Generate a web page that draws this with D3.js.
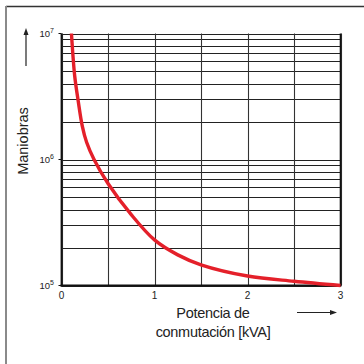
<!DOCTYPE html>
<html><head><meta charset="utf-8">
<script src="https://cdn.jsdelivr.net/npm/d3@7"></script>
<style>html,body{margin:0;padding:0;background:#fff}svg{display:block}text{font-family:"Liberation Sans",Arial,sans-serif}</style>
</head><body>
<script>
const powerKVA = [0.107, 0.142, 0.18, 0.223, 0.27, 0.35, 0.5, 0.75, 1.0, 1.25, 1.5, 2.0, 2.5, 3.0];
const operations = [1e7, 4.6e6, 2.9e6, 1.85e6, 1.37e6, 1.0e6, 6.45e5, 3.65e5, 2.3e5, 1.75e5, 1.46e5, 1.19e5, 1.08e5, 1.0e5];
const xTickValues = [0, 1, 2, 3];
const xGridValues = [0, 0.5, 1, 1.5, 2, 2.5, 3];
const yTickExponents = [5, 6, 7];
const yLabel = "Maniobras";
const xLabelLines = ["Potencia de", "conmutación [kVA]"];

const W = 364, H = 364;
const svg = d3.select("body").append("svg").attr("width", W).attr("height", H);

const x = d3.scaleLinear().domain([0, 3]).range([61.5, 340.5]);
const y = d3.scaleLog().domain([1e5, 1e7]).range([285.5, 33.5]);

// outer frame (top and left)
svg.append("line").attr("x1", 6).attr("x2", W).attr("y1", 6.5).attr("y2", 6.5).attr("stroke", "#333").attr("stroke-width", 1.3);
svg.append("line").attr("x1", 6).attr("x2", 6).attr("y1", 6).attr("y2", H).attr("stroke", "#8a8a8a").attr("stroke-width", 2);

// horizontal grid
const yGrid = [];
for (let e = 5; e < 7; e++) for (let k = 1; k <= 9; k++) yGrid.push(k * Math.pow(10, e));
yGrid.push(1e7);
svg.append("g").selectAll("line").data(yGrid).join("line")
  .attr("x1", x(0)).attr("x2", x(3))
  .attr("y1", d => Math.round(y(d)) + 0.5).attr("y2", d => Math.round(y(d)) + 0.5)
  .attr("stroke", "#222").attr("stroke-width", 1.1);

// vertical grid
svg.append("g").selectAll("line").data(xGridValues).join("line")
  .attr("x1", d => Math.round(x(d)) + 0.5).attr("x2", d => Math.round(x(d)) + 0.5)
  .attr("y1", y(1e7)).attr("y2", y(1e5))
  .attr("stroke", "#333").attr("stroke-width", 1.1);

// axes
svg.append("line").attr("x1", x(0)).attr("x2", x(0)).attr("y1", y(1e7)).attr("y2", y(1e5) + 1).attr("stroke", "#111").attr("stroke-width", 1.8);
svg.append("line").attr("x1", x(0) - 1).attr("x2", x(3) + 1).attr("y1", y(1e5)).attr("y2", y(1e5)).attr("stroke", "#111").attr("stroke-width", 1.8);
svg.append("line").attr("x1", x(3)).attr("x2", x(3)).attr("y1", y(1e7)).attr("y2", y(1e5)).attr("stroke", "#111").attr("stroke-width", 1.6);

// y ticks
const yt = svg.append("g").selectAll("g").data(yTickExponents).join("g");
yt.append("line").attr("x1", x(0) - 3).attr("x2", x(0)).attr("y1", e => y(Math.pow(10, e))).attr("y2", e => y(Math.pow(10, e))).attr("stroke", "#111");
const ytxt = yt.append("text").attr("x", 54).attr("y", e => y(Math.pow(10, e)) + 3.5)
  .attr("text-anchor", "end").attr("font-size", 9.5).attr("fill", "#222");
ytxt.append("tspan").text("10");
ytxt.append("tspan").attr("dy", -4).attr("font-size", 7).text(e => e);

// x tick labels
svg.append("g").selectAll("text").data(xTickValues).join("text")
  .attr("x", d => x(d)).attr("y", 299).attr("text-anchor", "middle")
  .attr("font-size", 10).attr("fill", "#222").text(d => d);

// curve
const pts = powerKVA.map((p, i) => [x(p), y(operations[i])]);
svg.append("path").attr("d", d3.line().curve(d3.curveCatmullRom.alpha(0.5))(pts))
  .attr("fill", "none").attr("stroke", "#e4202a").attr("stroke-width", 3.4).attr("stroke-linecap", "butt");

// y label
svg.append("text").attr("transform", "translate(28,141) rotate(-90)").attr("text-anchor", "middle")
  .attr("font-size", 14.5).attr("fill", "#222").text(yLabel);
// y arrow
svg.append("line").attr("x1", 26).attr("x2", 26).attr("y1", 66).attr("y2", 33).attr("stroke", "#222").attr("stroke-width", 1.2);
svg.append("path").attr("d", "M26,28 L23.5,35 L28.5,35 Z").attr("fill", "#222");

// x label
svg.append("g").selectAll("text").data(xLabelLines).join("text")
  .attr("x", 213).attr("y", (d, i) => 318 + i * 18.5).attr("text-anchor", "middle")
  .attr("font-size", 14.5).attr("letter-spacing", -0.3).attr("fill", "#222").text(d => d);
// x arrow
svg.append("line").attr("x1", 297).attr("x2", 331).attr("y1", 312.5).attr("y2", 312.5).attr("stroke", "#222").attr("stroke-width", 1.2);
svg.append("path").attr("d", "M337,312.5 L330,310 L330,315 Z").attr("fill", "#222");
</script>
</body></html>
